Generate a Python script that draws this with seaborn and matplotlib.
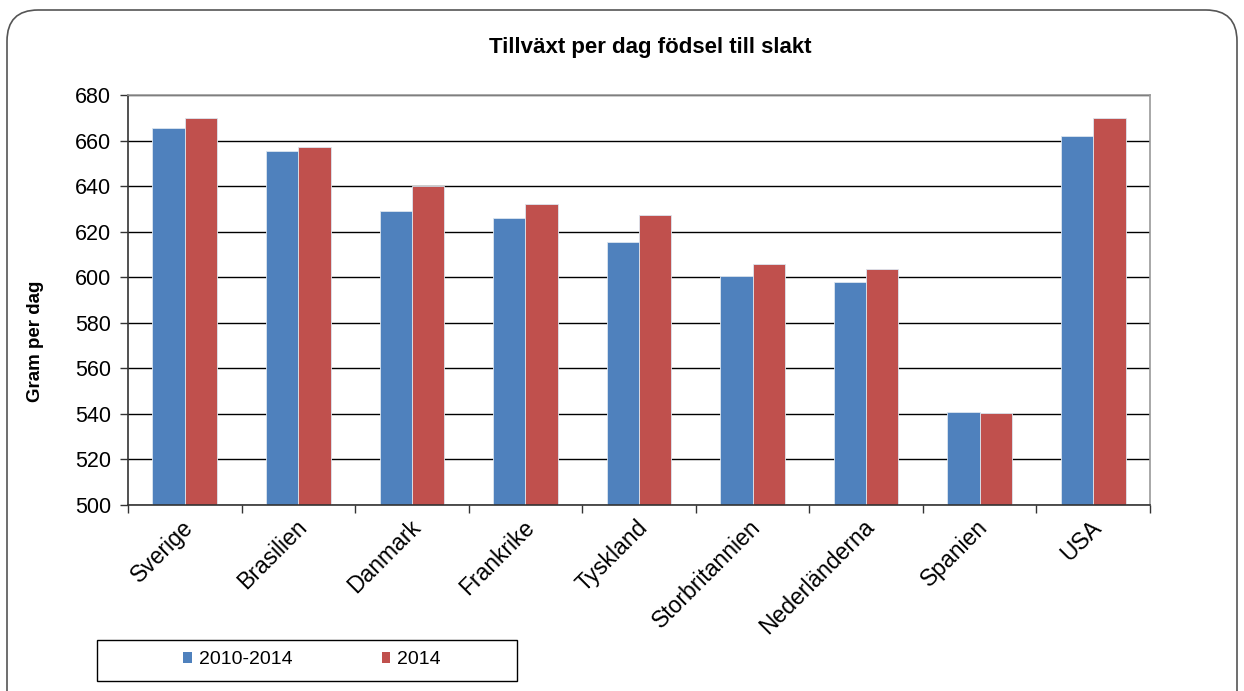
import matplotlib
matplotlib.use("Agg")
import matplotlib.pyplot as plt
import seaborn as sns
import pandas as pd
import numpy as np
from matplotlib.patches import FancyBboxPatch, Patch, Rectangle
from matplotlib.ticker import FixedLocator
from matplotlib.transforms import ScaledTranslation

countries = ["Sverige", "Brasilien", "Danmark", "Frankrike", "Tyskland",
             "Storbritannien", "Nederländerna", "Spanien", "USA"]
series_names = ["2010-2014", "2014"]
values_2010_2014 = [665.5, 655.5, 629, 626, 615.3, 600.6, 598.1, 540.9, 662]
values_2014 = [670, 657.2, 640, 632.3, 627.3, 606, 603.5, 540.5, 670]
colors = ["#4F81BD", "#C0504D"]

df = pd.DataFrame({
    "Land": countries * 2,
    "Serie": [series_names[0]] * len(countries) + [series_names[1]] * len(countries),
    "Värde": values_2010_2014 + values_2014,
})

sns.set_style("white")
plt.rcParams["font.family"] = ["Liberation Sans", "DejaVu Sans"]
plt.rcParams["text.color"] = "black"
plt.rcParams["xtick.labelcolor"] = "black"
plt.rcParams["ytick.labelcolor"] = "black"

W, H = 1244, 691
fig = plt.figure(figsize=(W / 100, H / 100), dpi=100)
ax = fig.add_axes([128 / W, 1 - 505 / H, (1150 - 128) / W, (505 - 95) / H])

sns.barplot(data=df, x="Land", y="Värde", hue="Serie", palette=colors,
            width=0.57, ax=ax, saturation=1, edgecolor="#dce6f0", linewidth=0.6,
            legend=False)

ax.set_ylim(500, 680)
ax.set_xlim(-0.5, len(countries) - 0.5)
ax.set_yticks(np.arange(500, 681, 20))
ax.yaxis.grid(True, color="black", linewidth=1)
ax.set_axisbelow(True)
for s in ["top", "right"]:
    ax.spines[s].set_color("#999999")
    ax.spines[s].set_linewidth(1.2)
for s in ["left", "bottom"]:
    ax.spines[s].set_color("#333333")
    ax.spines[s].set_linewidth(1.2)

ax.tick_params(axis="y", which="major", left=True, length=6, width=1, color="#333333",
               labelsize=15.5, pad=6)
ax.tick_params(axis="x", which="major", bottom=False, labelsize=16.5, pad=10)
ax.xaxis.set_minor_locator(FixedLocator(np.arange(-0.5, len(countries), 1.0)))
ax.tick_params(axis="x", which="minor", bottom=True, length=6, width=1, color="#333333")
shift = ScaledTranslation(5 / 100, 0, fig.dpi_scale_trans)
for lbl in ax.get_xticklabels():
    lbl.set_rotation(45)
    lbl.set_ha("right")
    lbl.set_va("center")
    lbl.set_rotation_mode("anchor")
    lbl.set_transform(lbl.get_transform() + shift)

ax.set_xlabel("")
ax.set_ylabel("")
fig.text(35 / W, 1 - 341 / H, "Gram per dag", rotation=90, ha="center", va="center",
         fontsize=13.5, fontweight="bold")

fig.text(650 / W, 1 - 47 / H, "Tillväxt per dag födsel till slakt",
         ha="center", va="center", fontsize=16, fontweight="bold")

# legend
fig.patches.append(Rectangle((97 / W, 1 - 681 / H), (517 - 97) / W, 41 / H,
                             transform=fig.transFigure, facecolor="white",
                             edgecolor="black", linewidth=1))
handles = [Patch(facecolor=c, edgecolor="none") for c in colors]
leg = fig.legend(handles, series_names, loc="center",
                 bbox_to_anchor=(312 / W, 1 - 660 / H),
                 ncol=2, fontsize=14, frameon=False,
                 handlelength=0.45, handleheight=0.45, handletextpad=0.35,
                 columnspacing=4.6, borderaxespad=0, borderpad=0)

border = FancyBboxPatch((7 / W, -0.05), (1237 - 7) / W, 1 - 10 / H + 0.05,
                        boxstyle="round,pad=0,rounding_size=0.025",
                        transform=fig.transFigure, facecolor="none",
                        edgecolor="#555555", linewidth=1.2, mutation_aspect=W / H)
fig.patches.append(border)

fig.savefig("out.png", dpi=100)
